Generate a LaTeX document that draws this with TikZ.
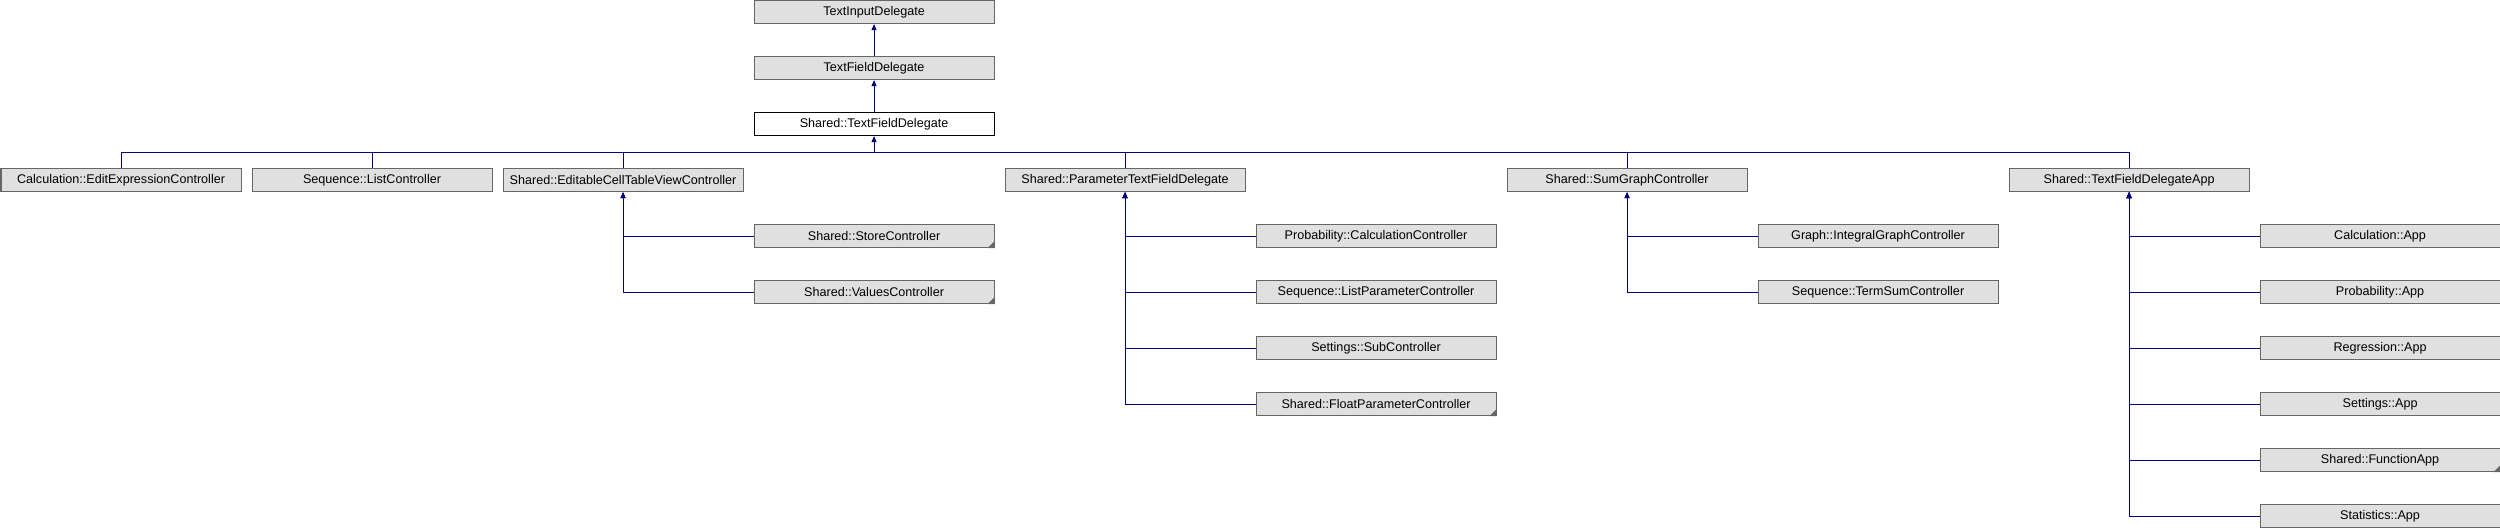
\documentclass[tikz,border=0pt]{standalone}
\usepackage{fontspec}
\setmainfont{Liberation Sans}
\usetikzlibrary{arrows.meta}
\definecolor{boxfill}{RGB}{224,224,224}
\definecolor{boxline}{RGB}{102,102,102}
\definecolor{linkblue}{RGB}{0,0,128}
\tikzset{
  box/.style={draw=boxline, fill=boxfill, line width=1.1pt, anchor=north west,
    minimum width=240pt, minimum height=23pt, inner sep=0pt,
    font=\fontsize{12.6}{13}\selectfont},
  link/.style={draw=linkblue, line width=1pt},
  up/.style={link, -{Triangle[length=6pt,width=5pt]}}
}
\newcommand{\moremark}[1]{
  % small corner for classes with hidden children
  \fill[boxline] (#1.south east) -- ++(-7,0) -- ++(7,-7) -- cycle;
}

\begin{document}
\begin{tikzpicture}[x=1pt, y=-1pt]
\useasboundingbox (0,0) rectangle (2500,528);

\node[box] (tid) at (753.5, 0) {TextInputDelegate};
\node[box] (tfd) at (753.5, 56) {TextFieldDelegate};
\node[box, fill=white, draw=black] (stfd) at (753.5, 112) {Shared::TextFieldDelegate};

\node[box] (calc) at (0.5, 168) {Calculation::EditExpressionController};
\node[box] (seqlist) at (251.5, 168) {Sequence::ListController};
\node[box] (editable) at (502.5, 168) {Shared::EditableCellTableViewController};
\node[box] (param) at (1004.5, 168) {Shared::ParameterTextFieldDelegate};
\node[box] (sumgraph) at (1506.5, 168) {Shared::SumGraphController};
\node[box] (tfdapp) at (2008.5, 168) {Shared::TextFieldDelegateApp};

\node[box] (store) at (753.5, 224) {Shared::StoreController};
\node[box] (values) at (753.5, 280) {Shared::ValuesController};

\node[box] (probcalc) at (1255.5, 224) {Probability::CalculationController};
\node[box] (seqparam) at (1255.5, 280) {Sequence::ListParameterController};
\node[box] (settsub) at (1255.5, 336) {Settings::SubController};
\node[box] (floatparam) at (1255.5, 392) {Shared::FloatParameterController};

\node[box] (integral) at (1757.5, 224) {Graph::IntegralGraphController};
\node[box] (termsum) at (1757.5, 280) {Sequence::TermSumController};

\node[box] (calcapp) at (2259.5, 224) {Calculation::App};
\node[box] (probapp) at (2259.5, 280) {Probability::App};
\node[box] (regapp) at (2259.5, 336) {Regression::App};
\node[box] (settapp) at (2259.5, 392) {Settings::App};
\node[box] (funcapp) at (2259.5, 448) {Shared::FunctionApp};
\node[box] (statapp) at (2259.5, 504) {Statistics::App};

\moremark{store}
\moremark{values}
\moremark{floatparam}
\moremark{funcapp}

\draw[up] (tfd.north) -- (tid.south);
\draw[up] (stfd.north) -- (tfd.south);

\coordinate (bus) at (stfd.south |- 0,152);
\draw[link] (calc.north) |- (bus);
\draw[link] (seqlist.north) |- (bus);
\draw[link] (editable.north) |- (bus);
\draw[link] (param.north) |- (bus);
\draw[link] (sumgraph.north) |- (bus);
\draw[link] (tfdapp.north) |- (bus);
\draw[up] (bus) -- (stfd.south);

\draw[up] (store.west) -| (editable.south);
\draw[up] (values.west) -| (editable.south);

\draw[up] (probcalc.west) -| (param.south);
\draw[up] (seqparam.west) -| (param.south);
\draw[up] (settsub.west) -| (param.south);
\draw[up] (floatparam.west) -| (param.south);

\draw[up] (integral.west) -| (sumgraph.south);
\draw[up] (termsum.west) -| (sumgraph.south);

\draw[up] (calcapp.west) -| (tfdapp.south);
\draw[up] (probapp.west) -| (tfdapp.south);
\draw[up] (regapp.west) -| (tfdapp.south);
\draw[up] (settapp.west) -| (tfdapp.south);
\draw[up] (funcapp.west) -| (tfdapp.south);
\draw[up] (statapp.west) -| (tfdapp.south);
\end{tikzpicture}
\end{document}
